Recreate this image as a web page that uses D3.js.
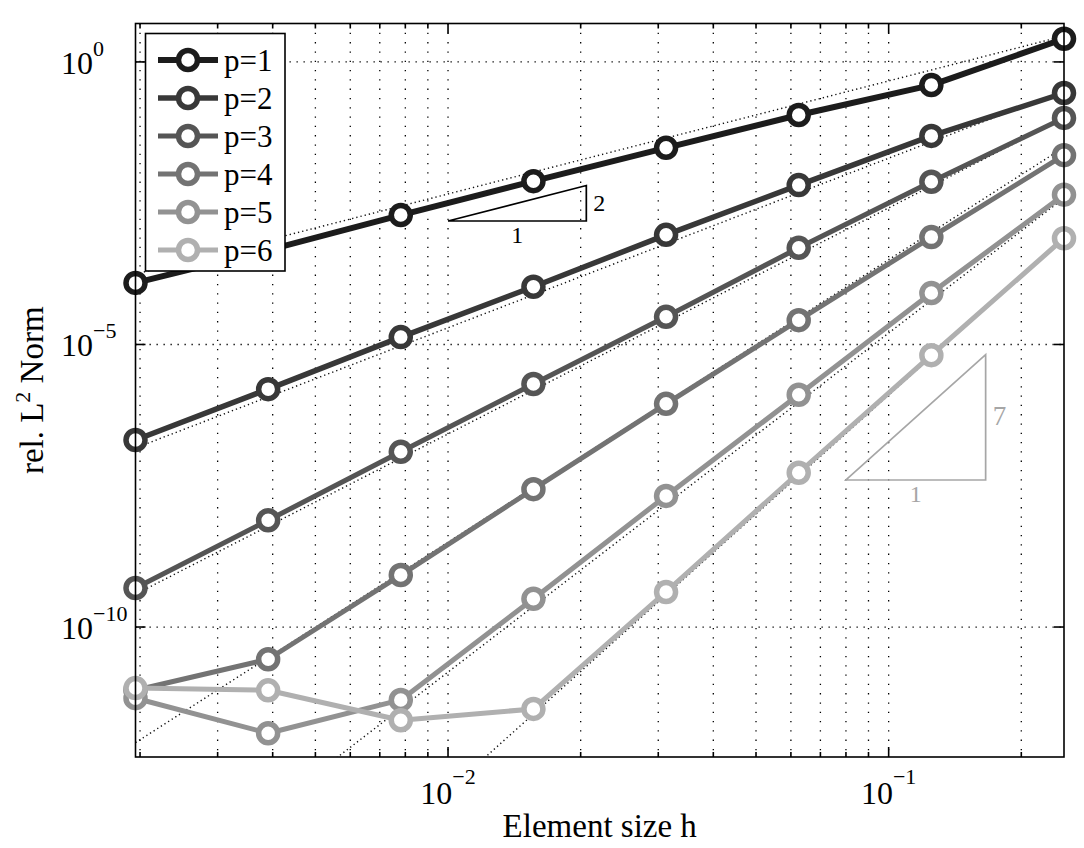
<!DOCTYPE html>
<html>
<head>
<meta charset="utf-8">
<script src="https://cdn.jsdelivr.net/npm/d3@7"></script>
<style>
  html, body { margin: 0; padding: 0; background: #fff; }
  svg { display: block; font-family: 'Liberation Serif', 'Times New Roman', serif; }
</style>
</head>
<body>
<div id="chart"></div>
<script>
// element sizes h = 2^-9 ... 2^-2
const hValues = [0.001953125, 0.00390625, 0.0078125, 0.015625, 0.03125, 0.0625, 0.125, 0.25];

// relative L2 error per polynomial degree
const errP1 = [1.23e-4, 4.68e-4, 1.95e-3, 7.76e-3, 3.02e-2, 1.15e-1, 3.89e-1, 2.57];
const errP2 = [2.04e-7, 1.62e-6, 1.35e-5, 1.05e-4, 8.71e-4, 6.61e-3, 4.90e-2, 2.82e-1];
const errP3 = [4.90e-10, 7.76e-9, 1.26e-7, 2.00e-6, 3.09e-5, 5.13e-4, 7.59e-3, 1.02e-1];
const errP4 = [7.59e-12, 2.69e-11, 8.32e-10, 2.75e-8, 8.91e-7, 2.69e-5, 7.94e-4, 2.24e-2];
const errP5 = [5.50e-12, 1.32e-12, 5.13e-12, 3.16e-10, 2.09e-8, 1.29e-6, 8.13e-5, 4.47e-3];
const errP6 = [8.32e-12, 7.59e-12, 2.24e-12, 3.55e-12, 4.17e-10, 5.37e-8, 6.46e-6, 7.59e-4];

const seriesNames = ['p=1', 'p=2', 'p=3', 'p=4', 'p=5', 'p=6'];
const seriesErrors = [errP1, errP2, errP3, errP4, errP5, errP6];

// dotted reference lines ~ h^(p+1), given by their value at h = 0.25
const refRates = [2, 3, 4, 5, 6, 7];
const refAnchors = [2.88, 0.309, 0.102, 0.0309, 3.89e-3, 7.76e-4];

// slope triangles (data coords)
const triH0 = [0.01, 0.08];
const triH1 = [0.0206, 0.166];
const triE0 = [1.53e-3, 4.0e-8];
const triRates = [2, 7];

const yTickValues = [1e-10, 1e-5, 1];
const yTickExponents = ['\u221210', '\u22125', '0'];
const xTickValues = [1e-2, 1e-1];
const xTickExponents = ['\u22122', '\u22121'];

const width = 1084;
const height = 848;
const plot = {left: 135.5, top: 23.5, right: 1064, bottom: 757};

const colors = ['#1c1c1c', '#383838', '#555555', '#737373', '#929292', '#b0b0b0'];
const lineWidths = [6, 5.5, 5, 5, 5, 5];
const triColors = ['#000', '#a6a6a6'];

const x = d3.scaleLog()
  .domain([hValues[0], hValues[hValues.length - 1]])
  .range([plot.left, plot.right]);

const y = d3.scaleLog()
  .domain([Math.pow(10, -12.3), Math.pow(10, 0.68)])
  .range([plot.bottom, plot.top]);

const svg = d3.select('#chart').append('svg')
  .attr('width', width)
  .attr('height', height);

svg.append('defs').append('clipPath')
  .attr('id', 'plot-clip')
  .append('rect')
  .attr('x', plot.left)
  .attr('y', plot.top)
  .attr('width', plot.right - plot.left)
  .attr('height', plot.bottom - plot.top);

// grid
const allXTicks = x.ticks();
const isMajor = (v) => Math.abs(Math.log10(v) - Math.round(Math.log10(v))) < 1e-9;

const grid = svg.append('g')
  .attr('stroke', '#000')
  .attr('stroke-width', 1.3);

grid.selectAll('line.vgrid')
  .data(allXTicks)
  .join('line')
  .attr('class', 'vgrid')
  .attr('x1', (d) => x(d)).attr('x2', (d) => x(d))
  .attr('y1', plot.top).attr('y2', plot.bottom)
  .attr('stroke-dasharray', '1.3,8');

grid.selectAll('line.hgrid')
  .data(yTickValues)
  .join('line')
  .attr('class', 'hgrid')
  .attr('x1', plot.left).attr('x2', plot.right)
  .attr('y1', (d) => y(d)).attr('y2', (d) => y(d))
  .attr('stroke-dasharray', '1.3,5.7');

// reference lines
const h0 = hValues[0];
const h1 = hValues[hValues.length - 1];
svg.append('g')
  .attr('clip-path', 'url(#plot-clip)')
  .selectAll('line')
  .data(refRates)
  .join('line')
  .attr('x1', x(h0))
  .attr('x2', x(h1))
  .attr('y1', (d, i) => y(refAnchors[i] * Math.pow(h0 / h1, d)))
  .attr('y2', (d, i) => y(refAnchors[i]))
  .attr('stroke', '#111')
  .attr('stroke-width', 1.4)
  .attr('stroke-dasharray', '1.3,3');

// slope triangles
triRates.forEach((rate, i) => {
  const xa = x(triH0[i]);
  const xb = x(triH1[i]);
  const ya = y(triE0[i]);
  const yb = y(triE0[i] * Math.pow(triH1[i] / triH0[i], rate));
  const g = svg.append('g');
  g.append('path')
    .attr('d', `M${xa},${ya}L${xb},${ya}L${xb},${yb}Z`)
    .attr('fill', 'none')
    .attr('stroke', triColors[i])
    .attr('stroke-width', 1.7);
  g.append('text')
    .attr('x', (xa + xb) / 2)
    .attr('y', ya + 22)
    .attr('text-anchor', 'middle')
    .attr('font-size', 24)
    .attr('fill', triColors[i])
    .text('1');
  g.append('text')
    .attr('x', xb + 7)
    .attr('y', (ya + yb) / 2 + 8)
    .attr('font-size', i === 0 ? 24 : 27)
    .attr('fill', triColors[i])
    .text(rate);
});

// series
const line = d3.line()
  .x((d) => x(d[0]))
  .y((d) => y(d[1]));

seriesErrors.forEach((errs, i) => {
  const pts = hValues.map((h, k) => [h, errs[k]]);
  const g = svg.append('g');
  g.append('path')
    .datum(pts)
    .attr('d', line)
    .attr('fill', 'none')
    .attr('stroke', colors[i])
    .attr('stroke-width', lineWidths[i])
    .attr('stroke-linejoin', 'round');
  g.selectAll('circle')
    .data(pts)
    .join('circle')
    .attr('cx', (d) => x(d[0]))
    .attr('cy', (d) => y(d[1]))
    .attr('r', 9.5)
    .attr('fill', '#fff')
    .attr('stroke', colors[i])
    .attr('stroke-width', 5.5);
});

// axes frame and ticks
const axes = svg.append('g')
  .attr('stroke', '#000')
  .attr('stroke-width', 1.6);

axes.append('rect')
  .attr('x', plot.left)
  .attr('y', plot.top)
  .attr('width', plot.right - plot.left)
  .attr('height', plot.bottom - plot.top)
  .attr('fill', 'none');

axes.selectAll('line.xtick-b')
  .data(allXTicks)
  .join('line')
  .attr('class', 'xtick-b')
  .attr('x1', (d) => x(d)).attr('x2', (d) => x(d))
  .attr('y1', plot.bottom)
  .attr('y2', (d) => plot.bottom - (isMajor(d) ? 10 : 5));

axes.selectAll('line.xtick-t')
  .data(allXTicks)
  .join('line')
  .attr('class', 'xtick-t')
  .attr('x1', (d) => x(d)).attr('x2', (d) => x(d))
  .attr('y1', plot.top)
  .attr('y2', (d) => plot.top + (isMajor(d) ? 10 : 5));

axes.selectAll('line.ytick-l')
  .data(yTickValues)
  .join('line')
  .attr('class', 'ytick-l')
  .attr('x1', plot.left).attr('x2', plot.left + 10)
  .attr('y1', (d) => y(d)).attr('y2', (d) => y(d));

axes.selectAll('line.ytick-r')
  .data(yTickValues)
  .join('line')
  .attr('class', 'ytick-r')
  .attr('x1', plot.right).attr('x2', plot.right - 10)
  .attr('y1', (d) => y(d)).attr('y2', (d) => y(d));

// tick labels
const xLabels = svg.append('g').attr('fill', '#000');
xTickValues.forEach((v, i) => {
  const t = xLabels.append('text')
    .attr('x', x(v))
    .attr('y', plot.bottom + 47)
    .attr('text-anchor', 'middle')
    .attr('font-size', 32);
  t.append('tspan').text('10');
  t.append('tspan').attr('dy', -20).attr('font-size', 22).text(xTickExponents[i]);
});

const yLabels = svg.append('g').attr('fill', '#000');
yTickValues.forEach((v, i) => {
  yLabels.append('text')
    .attr('x', 93)
    .attr('y', y(v) + 12)
    .attr('text-anchor', 'end')
    .attr('font-size', 32)
    .text('10');
  yLabels.append('text')
    .attr('x', 93)
    .attr('y', y(v) - 6)
    .attr('font-size', 22)
    .text(yTickExponents[i]);
});

// axis titles
svg.append('text')
  .attr('x', (plot.left + plot.right) / 2)
  .attr('y', 837)
  .attr('text-anchor', 'middle')
  .attr('font-size', 33)
  .text('Element size h');

const yTitle = svg.append('text')
  .attr('transform', `translate(43,${(plot.top + plot.bottom) / 2}) rotate(-90)`)
  .attr('text-anchor', 'middle')
  .attr('font-size', 33);
yTitle.append('tspan').text('rel. L');
yTitle.append('tspan').attr('dy', -13).attr('font-size', 22).text('2');
yTitle.append('tspan').attr('dy', 13).text(' Norm');

// legend
const legend = svg.append('g');
legend.append('rect')
  .attr('x', 145.5)
  .attr('y', 33.5)
  .attr('width', 139.5)
  .attr('height', 237.5)
  .attr('fill', '#fff')
  .attr('stroke', '#000')
  .attr('stroke-width', 1.6);

const rows = legend.selectAll('g.row')
  .data(seriesNames)
  .join('g')
  .attr('class', 'row')
  .attr('transform', (d, i) => `translate(0,${60 + i * 38})`);

rows.append('line')
  .attr('x1', 158).attr('x2', 218)
  .attr('y1', 0).attr('y2', 0)
  .attr('stroke', (d, i) => colors[i])
  .attr('stroke-width', (d, i) => lineWidths[i]);

rows.append('circle')
  .attr('cx', 188)
  .attr('cy', 0)
  .attr('r', 9.5)
  .attr('fill', '#fff')
  .attr('stroke', (d, i) => colors[i])
  .attr('stroke-width', 5.5);

rows.append('text')
  .attr('x', 224)
  .attr('y', 10.5)
  .attr('font-size', 31)
  .text((d) => d);
</script>
</body>
</html>
